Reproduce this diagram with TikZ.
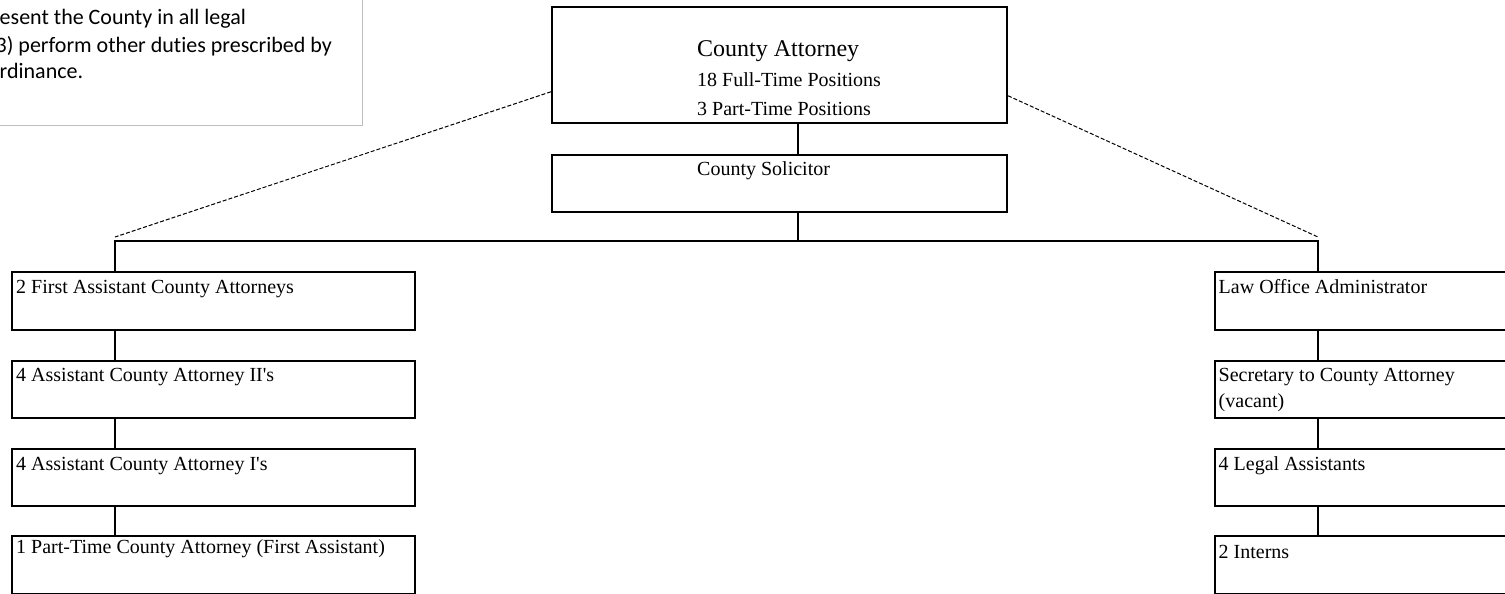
\documentclass[tikz,border=0pt]{standalone}
\usepackage{fontspec,xcolor}
\setmainfont{Liberation Serif}
\newfontfamily\notefont[Ligatures=NoCommon]{Carlito}
\definecolor{ink}{HTML}{000000}
\definecolor{frame}{HTML}{BFBFBF}
\newcommand{\body}{\fontsize{20}{26}\selectfont}
\newcommand{\htitle}{\fontsize{24}{28}\selectfont}
\newcommand{\notetxt}{\notefont\fontsize{22}{26.5}\selectfont}
\tikzset{
  post/.style={draw=ink,line width=2pt,fill=white,inner sep=0pt,anchor=north west},
  txt/.style={anchor=base west,inner sep=0pt,font=\body,text=ink},
  link/.style={draw=ink,line width=2pt},
  dotlink/.style={draw=ink,line width=1pt,dash pattern=on 4pt off 2pt},
}

\begin{document}
\begin{tikzpicture}[x=1pt,y=-1pt]
\useasboundingbox (0,0) rectangle (1505,594);
\clip (0,0) rectangle (1505,594);
% note box, cut by the page edge
\node[draw=frame,line width=1pt,fill=white,inner sep=0pt,minimum width=420pt,minimum height=160pt,anchor=south east] (duty) at (363,126) {};
\node[anchor=base west,inner sep=0pt,font=\notetxt] (duty-a) at (-0.5,25) {esent the County in all legal};
\node[anchor=base west,inner sep=0pt,font=\notetxt] (duty-b) at (-4.5,53) {3) perform other duties prescribed by};
\node[anchor=base west,inner sep=0pt,font=\notetxt] (duty-c) at (-0.5,78) {rdinance.};
% bus points
\coordinate (lbus) at (115,241);
\coordinate (mbus) at (798,241);
\coordinate (rbus) at (1318,241);
% top
\node[post,minimum width=455pt,minimum height=115.5pt] (att) at (551,6) {};
\node[txt,font=\htitle] (att-a) at (697,57) {County Attorney};
\node[txt] (att-b) at (697,87) {18 Full-Time Positions};
\node[txt] (att-c) at (697,115) {3 Part-Time Positions};
\node[post,minimum width=455pt,minimum height=57pt] (sol) at (551,154) {};
\node[txt] (sol-a) at (697,175.5) {County Solicitor};
% left column
\node[post,minimum width=402.5pt,minimum height=57.5pt] (fa1) at (11,271) {};
\node[txt] (fa1-a) at (16,293) {2 First Assistant County Attorneys};
\node[post,minimum width=402.5pt,minimum height=57.5pt] (fa2) at (11,359.5) {};
\node[txt] (fa2-a) at (16,381.5) {4 Assistant County Attorney II\textquotesingle s};
\node[post,minimum width=402.5pt,minimum height=57.5pt] (fa3) at (11,447.5) {};
\node[txt] (fa3-a) at (16,470) {4 Assistant County Attorney I\textquotesingle s};
\node[post,minimum width=402.5pt,minimum height=57.5pt] (fa4) at (11,535) {};
\node[txt] (fa4-a) at (16,553) {1 Part-Time County Attorney (First Assistant)};
% right column
\node[post,minimum width=402.5pt,minimum height=57.5pt] (loa) at (1213.5,271) {};
\node[txt] (loa-a) at (1218.5,293) {Law Office Administrator};
\node[post,minimum width=402.5pt,minimum height=57.5pt] (sec) at (1213.5,359.5) {};
\node[txt] (sec-a) at (1218.5,381.5) {Secretary to County Attorney};
\node[txt] (sec-b) at (1218.5,407) {(vacant)};
\node[post,minimum width=402.5pt,minimum height=57.5pt] (legal) at (1213.5,447.5) {};
\node[txt] (legal-a) at (1218.5,470) {4 Legal Assistants};
\node[post,minimum width=402.5pt,minimum height=57.5pt] (intern) at (1213.5,535) {};
\node[txt] (intern-a) at (1218.5,558) {2 Interns};
% solid lines
\draw[link] (att.south -| mbus) -- (sol.north -| mbus);
\draw[link] (sol.south -| mbus) -- (mbus);
\draw[link] (fa1.north -| lbus) -- (lbus) -- (rbus) -- (loa.north -| rbus);
\draw[link] (fa1.south -| lbus) -- (fa2.north -| lbus);
\draw[link] (fa2.south -| lbus) -- (fa3.north -| lbus);
\draw[link] (fa3.south -| lbus) -- (fa4.north -| lbus);
\draw[link] (loa.south -| rbus) -- (sec.north -| rbus);
\draw[link] (sec.south -| rbus) -- (legal.north -| rbus);
\draw[link] (legal.south -| rbus) -- (intern.north -| rbus);
% dashed lines
\draw[dotlink] ([yshift=-27pt]att.west) -- ([yshift=4pt]lbus);
\draw[dotlink] ([yshift=-31pt]att.east) -- ([yshift=4pt]rbus);
\end{tikzpicture}
\end{document}
